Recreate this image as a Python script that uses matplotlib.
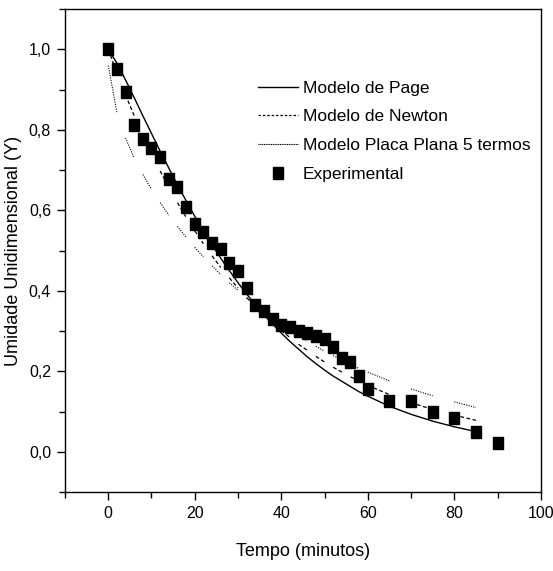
import matplotlib
matplotlib.use('Agg')
import matplotlib.pyplot as plt
from matplotlib.collections import LineCollection
from matplotlib.ticker import MultipleLocator, FuncFormatter
from matplotlib.lines import Line2D

tempo = [0, 2, 4, 6, 8, 10, 12, 14, 16, 18, 20, 22, 24, 26, 28, 30,
         32, 34, 36, 38, 40, 42, 44, 46, 48, 50, 52, 54, 56, 58, 60,
         65, 70, 75, 80, 85, 90]
y_exp = [1.0, 0.950, 0.895, 0.811, 0.777, 0.755, 0.733, 0.678, 0.658, 0.609,
         0.566, 0.546, 0.518, 0.504, 0.469, 0.449, 0.408, 0.365, 0.350, 0.329,
         0.316, 0.309, 0.301, 0.294, 0.288, 0.280, 0.260, 0.234, 0.224, 0.189,
         0.156, 0.127, 0.127, 0.099, 0.085, 0.050, 0.022]

# model curves, same times up to 85 min
tempo_mod = tempo[:-1]
y_page = [1.0, 0.966, 0.924, 0.880, 0.835, 0.791, 0.747, 0.705, 0.663, 0.624,
          0.585, 0.549, 0.514, 0.481, 0.450, 0.420, 0.392, 0.365, 0.340, 0.317,
          0.295, 0.274, 0.255, 0.236, 0.219, 0.203, 0.188, 0.175, 0.162, 0.149,
          0.138, 0.113, 0.093, 0.076, 0.062, 0.050]
y_newton = [1.0, 0.942, 0.887, 0.835, 0.787, 0.741, 0.698, 0.657, 0.619, 0.583,
            0.549, 0.517, 0.487, 0.458, 0.432, 0.407, 0.383, 0.361, 0.340, 0.320,
            0.301, 0.284, 0.267, 0.252, 0.237, 0.223, 0.210, 0.198, 0.186, 0.176,
            0.165, 0.142, 0.122, 0.105, 0.091, 0.078]
y_placa = [0.960, 0.844, 0.780, 0.730, 0.689, 0.652, 0.619, 0.588, 0.560, 0.533,
           0.508, 0.484, 0.462, 0.440, 0.420, 0.401, 0.382, 0.365, 0.348, 0.332,
           0.317, 0.302, 0.288, 0.275, 0.262, 0.250, 0.239, 0.228, 0.217, 0.207,
           0.198, 0.176, 0.156, 0.139, 0.124, 0.110]

font = 'Liberation Sans'
# squares in the original are a bit taller than wide
box = [(-0.4, -0.5), (0.4, -0.5), (0.4, 0.5), (-0.4, 0.5), (-0.4, -0.5)]

fig = plt.figure(figsize=(5.53, 5.71), dpi=100)
ax = fig.add_axes([0.1175, 0.1384, 0.8605, 0.8456])


def every_other(x, y):
    # the original only shows every second segment of the broken lines
    segs = []
    for i in range(0, len(x) - 1, 2):
        segs.append([(x[i], y[i]), (x[i + 1], y[i + 1])])
    return segs


ax.plot(tempo_mod, y_page, color='black', lw=1.0)
ax.add_collection(LineCollection(every_other(tempo_mod, y_newton), colors='black',
                                 linewidths=0.9, linestyles=(0, (3, 2))))
ax.add_collection(LineCollection(every_other(tempo_mod, y_placa), colors='black',
                                 linewidths=0.8, linestyles=(0, (1, 1.2))))
ax.plot(tempo, y_exp, ls='none', marker=box, ms=8.5, color='black')

ax.set_xlim(-10, 100)
ax.set_ylim(-0.1, 1.1)
ax.xaxis.set_major_locator(MultipleLocator(20))
ax.xaxis.set_minor_locator(MultipleLocator(10))
ax.yaxis.set_major_locator(MultipleLocator(0.2))
ax.yaxis.set_minor_locator(MultipleLocator(0.1))
ax.yaxis.set_major_formatter(FuncFormatter(lambda v, p: f'{v:.1f}'.replace('.', ',').replace('-0,0', '0,0')))
ax.tick_params(which='major', direction='out', length=6, width=1, top=False, right=False, pad=4)
ax.tick_params(which='minor', direction='out', length=4, width=1, top=False, right=False)
for s in ax.spines.values():
    s.set_linewidth(1.0)
for lab in ax.get_xticklabels() + ax.get_yticklabels():
    lab.set_fontfamily(font)
    lab.set_fontsize(11.5)

ax.set_xlabel('Tempo (minutos)', fontsize=13, family=font, labelpad=16)
ax.set_ylabel('Umidade Unidimensional (Y)', fontsize=13, family=font, labelpad=5)

handles = [Line2D([], [], color='black', lw=1.0),
           Line2D([], [], color='black', lw=0.9, ls=(0, (2, 1.5))),
           Line2D([], [], color='black', lw=0.8, ls=(0, (1, 0.6))),
           Line2D([], [], ls='none', marker=box, ms=8.5, color='black')]
labels = ['Modelo de Page', 'Modelo de Newton', 'Modelo Placa Plana 5 termos', 'Experimental']
ax.legend(handles, labels, loc='upper left', bbox_to_anchor=(0.405, 0.852), frameon=False,
          prop={'family': font, 'size': 12.5}, handlelength=2.3, handletextpad=0.3,
          labelspacing=0.78, borderaxespad=0, borderpad=0)

fig.savefig('out.png', dpi=100)
